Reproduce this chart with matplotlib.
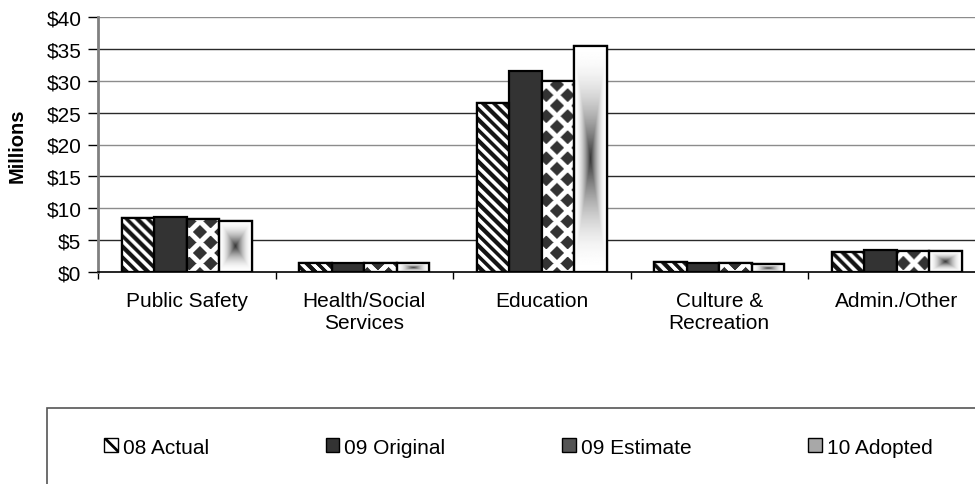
import matplotlib.pyplot as plt
import numpy as np
from matplotlib.patches import Patch, Rectangle

plt.rcParams['font.family'] = ['Liberation Sans', 'DejaVu Sans']
plt.rcParams['hatch.linewidth'] = 2.0

# data
categories = ['Public Safety', 'Health/Social\nServices', 'Education',
              'Culture &\nRecreation', 'Admin./Other']
series = ['08 Actual', '09 Original', '09 Estimate', '10 Adopted']
actual_08 = [8.4, 1.4, 26.5, 1.5, 3.2]
original_09 = [8.6, 1.4, 31.6, 1.4, 3.45]
estimate_09 = [8.3, 1.4, 29.9, 1.4, 3.3]
adopted_10 = [8.05, 1.4, 35.5, 1.25, 3.25]
y_ticks = [0, 5, 10, 15, 20, 25, 30, 35, 40]
y_labels = ['$' + str(v) for v in y_ticks]

DARK = '#333333'
W, H = 975, 485

fig = plt.figure(figsize=(W / 100, H / 100), dpi=100)
ax = fig.add_axes([98 / W, 1 - 273 / H, 887.5 / W, 255 / H])
ax.set_xlim(0, len(categories))
ax.set_ylim(0, 40)

# alternating grid line shades like the original export
for i, v in enumerate(y_ticks[1:]):
    col = '#2a2a2a' if i % 2 == 0 else '#8c8c8c'
    ax.axhline(v, color=col, lw=1.0, zorder=0)

x = np.arange(len(categories)) + 0.5
w = 0.183

b1 = ax.bar(x - 1.5 * w, actual_08, w, facecolor='white', edgecolor='black',
            lw=1.6, zorder=2)
b2 = ax.bar(x - 0.5 * w, original_09, w, facecolor=DARK, edgecolor='black',
            lw=1.6, zorder=2)
b3 = ax.bar(x + 0.5 * w, estimate_09, w, facecolor='white', edgecolor='black',
            lw=1.6, zorder=2)
b4 = ax.bar(x + 1.5 * w, adopted_10, w, facecolor='white', edgecolor='black',
            lw=1.6, zorder=2)

inv = ax.transData.inverted()
dark_rgb = np.array([0x33, 0x33, 0x33]) / 255.0


def pixel_fill(p, dark_mask, color):
    # paint a pattern fixed in screen pixels, clipped to the bar
    x0, y0 = p.get_x(), p.get_y()
    x1, y1 = x0 + p.get_width(), y0 + p.get_height()
    (X0, Y0), (X1, Y1) = ax.transData.transform([[x0, y0], [x1, y1]])
    px = np.arange(np.floor(X0), np.ceil(X1)) + 0.5
    py = np.arange(np.floor(Y0), np.ceil(Y1)) + 0.5
    PX, PY = np.meshgrid(px, py)
    img = np.ones(PX.shape + (3,))
    img[dark_mask(PX, PY)] = color
    (ex0, ey0), (ex1, ey1) = inv.transform([[px[0] - 0.5, py[0] - 0.5],
                                           [px[-1] + 0.5, py[-1] + 0.5]])
    im = ax.imshow(img, extent=(ex0, ex1, ey0, ey1), origin='lower',
                   aspect='auto', interpolation='bilinear', zorder=2.1)
    im.set_clip_path(p)


def stripes(PX, PY, period=10.5):
    return ((PX + PY) % period) < period * 0.5


def diamonds(PX, PY, period=21.0, half=7.4):
    du = np.abs(((PX + PY) % period) - period / 2)
    dv = np.abs(((PX - PY) % period) - period / 2)
    return (du <= half) & (dv <= half)


for p in b1.patches:
    pixel_fill(p, stripes, np.array([0.08, 0.08, 0.08]))
for p in b3.patches:
    pixel_fill(p, diamonds, dark_rgb)

# rectangular "from centre" gradient for 10 Adopted
g = np.linspace(-1, 1, 200)
U, V = np.meshgrid(g, g)
t = np.maximum(np.abs(U), np.abs(V))
shade = 0.2 + 0.8 * (1 - (1 - t) ** 2)
for p in b4.patches:
    x0, y0 = p.get_x(), p.get_y()
    x1, y1 = x0 + p.get_width(), y0 + p.get_height()
    im = ax.imshow(shade, cmap='gray', vmin=0, vmax=1, extent=(x0, x1, y0, y1),
                   origin='lower', aspect='auto', interpolation='bilinear',
                   zorder=2.1)
    im.set_clip_path(p)

# redraw outlines on top of the fills
for bars in (b1, b3, b4):
    for p in bars.patches:
        ax.add_patch(Rectangle((p.get_x(), p.get_y()), p.get_width(), p.get_height(),
                               fill=False, edgecolor='black', lw=1.6, zorder=2.2))

ax.set_xlim(0, len(categories))
ax.set_ylim(0, 40)

ax.spines['top'].set_visible(False)
ax.spines['right'].set_visible(False)
ax.spines['left'].set_color('#808080')
ax.spines['left'].set_linewidth(2)
ax.spines['left'].set_zorder(3)
ax.spines['bottom'].set_color('black')
ax.spines['bottom'].set_linewidth(1.2)
ax.spines['bottom'].set_zorder(3)

ax.set_yticks(y_ticks)
ax.set_yticklabels(y_labels)
ax.tick_params(axis='y', direction='out', length=7, width=1, color='black',
               labelsize=15, pad=5)

ax.set_xticks(np.arange(len(categories) + 1))
ax.set_xticklabels([])
ax.set_xticks(x, minor=True)
ax.set_xticklabels(categories, minor=True)
ax.tick_params(axis='x', which='major', direction='out', length=5, width=1,
               color='black')
ax.tick_params(axis='x', which='minor', length=0, labelsize=15, pad=14)

ax.set_ylabel('Millions', fontsize=14.5, fontweight='bold')
ax.yaxis.set_label_coords(-0.08, 0.5)

handles = [
    Patch(facecolor='white', edgecolor='black', hatch='\\\\'),
    Patch(facecolor=DARK, edgecolor='black'),
    Patch(facecolor='#555555', edgecolor='black'),
    Patch(facecolor='#a8a8a8', edgecolor='black'),
]
fig.legend(handles, series, loc='center left', bbox_to_anchor=(104 / W, 1 - 448 / H),
           ncol=4, frameon=False, fontsize=15, handlelength=0.65, handleheight=0.65,
           handletextpad=0.25, columnspacing=5.6, borderaxespad=0, borderpad=0)

fig.add_artist(Rectangle((47 / W, -0.1), 1.0, 0.1 + (H - 409) / H,
                         transform=fig.transFigure, fill=False,
                         edgecolor='#555555', lw=1.2))

fig.savefig('out.png', dpi=100)
